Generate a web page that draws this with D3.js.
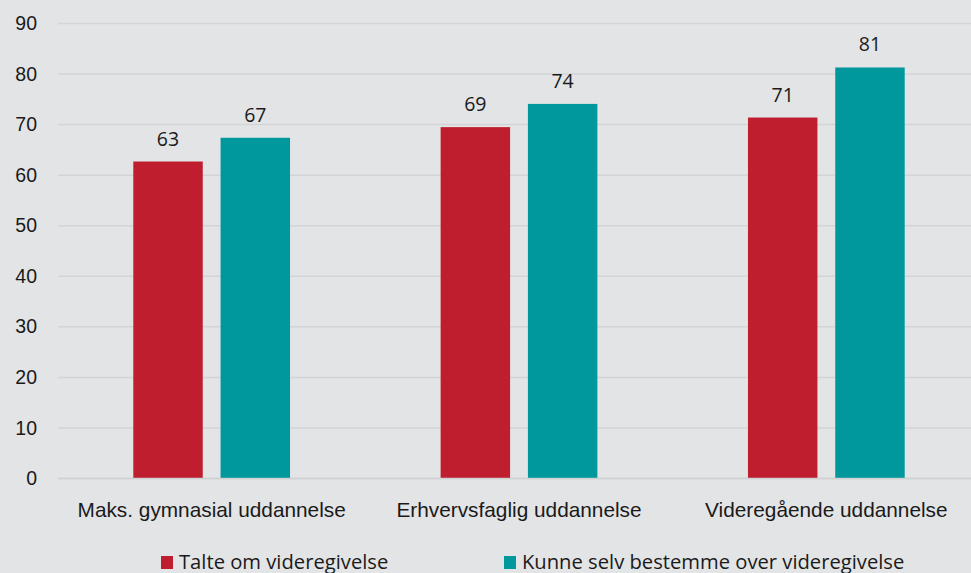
<!DOCTYPE html>
<html>
<head>
<meta charset="utf-8">
<script src="https://cdn.jsdelivr.net/npm/d3@7"></script>
<style>
  html, body { margin: 0; padding: 0; background: #e3e4e6; }
  svg { display: block; font-family: "Open Sans", "Noto Sans", sans-serif; }
</style>
</head>
<body>
<svg class="chart"></svg>
<script>
var categories = ["Maks. gymnasial uddannelse", "Erhvervsfaglig uddannelse", "Videregående uddannelse"];
var seriesNames = ["Talte om videregivelse", "Kunne selv bestemme over videregivelse"];
var talteValues = [62.6, 69.4, 71.3];
var kunneValues = [67.3, 74.0, 81.2];
var yTicks = [0, 10, 20, 30, 40, 50, 60, 70, 80, 90];

var colors = ["#be1e2d", "#00979d"];
var width = 971, height = 573;

var x = d3.scaleBand()
    .domain(categories)
    .range([58, 980]);

var y = d3.scaleLinear()
    .domain([0, 90])
    .range([478, 23]);

var barW = x.bandwidth() * 0.226, gap = x.bandwidth() * 0.058;

var chart = d3.select(".chart")
    .attr("width", width)
    .attr("height", height);

chart.append("rect")
    .attr("width", width).attr("height", height)
    .attr("fill", "#e3e4e6");

// Y-Axis with gridlines
var yAxis = d3.axisLeft(y)
    .tickValues(yTicks)
    .tickSize(-(980 - 58))
    .tickPadding(21);

chart.append("g")
    .attr("transform", "translate(58,0)")
    .call(yAxis)
    .call(function(g) {
        g.select(".domain").remove();
        g.selectAll(".tick line").attr("stroke", "#d3d4d6").attr("stroke-width", 1.5);
        g.selectAll(".tick text").attr("fill", "#1a1a1a").attr("font-size", 19.5).attr("dy", "0.34em");
    });

var rows = categories.map(function(c, i) {
    return { cat: c, values: [talteValues[i], kunneValues[i]] };
});

var groups = chart.append("g")
    .selectAll("g")
    .data(rows)
    .enter().append("g")
    .attr("transform", function(d) { return "translate(" + x(d.cat) + ",0)"; });

function barX(j) {
    var center = x.bandwidth() / 2;
    return j === 0 ? center - gap / 2 - barW : center + gap / 2;
}

groups.selectAll("rect")
    .data(function(d) { return d.values; })
    .enter().append("rect")
    .attr("x", function(d, j) { return barX(j); })
    .attr("y", function(d) { return y(d); })
    .attr("width", barW)
    .attr("height", function(d) { return y(0) - y(d); })
    .attr("fill", function(d, j) { return colors[j]; });

groups.selectAll("text")
    .data(function(d) { return d.values; })
    .enter().append("text")
    .attr("x", function(d, j) { return barX(j) + barW / 2; })
    .attr("y", function(d) { return y(d) - 16; })
    .attr("text-anchor", "middle")
    .attr("font-size", 19.5)
    .attr("fill", "#1a1a1a")
    .text(function(d) { return Math.round(d); });

// X-Axis
var xAxis = d3.axisBottom(x).tickSize(0).tickPadding(24);

chart.append("g")
    .attr("transform", "translate(0," + y(0) + ")")
    .call(xAxis)
    .call(function(g) {
        g.select(".domain").attr("stroke", "#cfd0d2").attr("stroke-width", 1.5);
        g.selectAll(".tick text").attr("fill", "#1a1a1a").attr("font-size", 20.8);
    });

// Legend
var legendX = [161, 504];
var legend = chart.append("g")
    .selectAll("g")
    .data(seriesNames)
    .enter().append("g")
    .attr("transform", function(d, i) { return "translate(" + legendX[i] + ",556)"; });

legend.append("rect")
    .attr("width", 12).attr("height", 13)
    .attr("fill", function(d, i) { return colors[i]; });

legend.append("text")
    .attr("x", 18)
    .attr("y", 13)
    .attr("font-size", 20.2)
    .attr("fill", "#1a1a1a")
    .text(function(d) { return d; });
</script>
</body>
</html>
